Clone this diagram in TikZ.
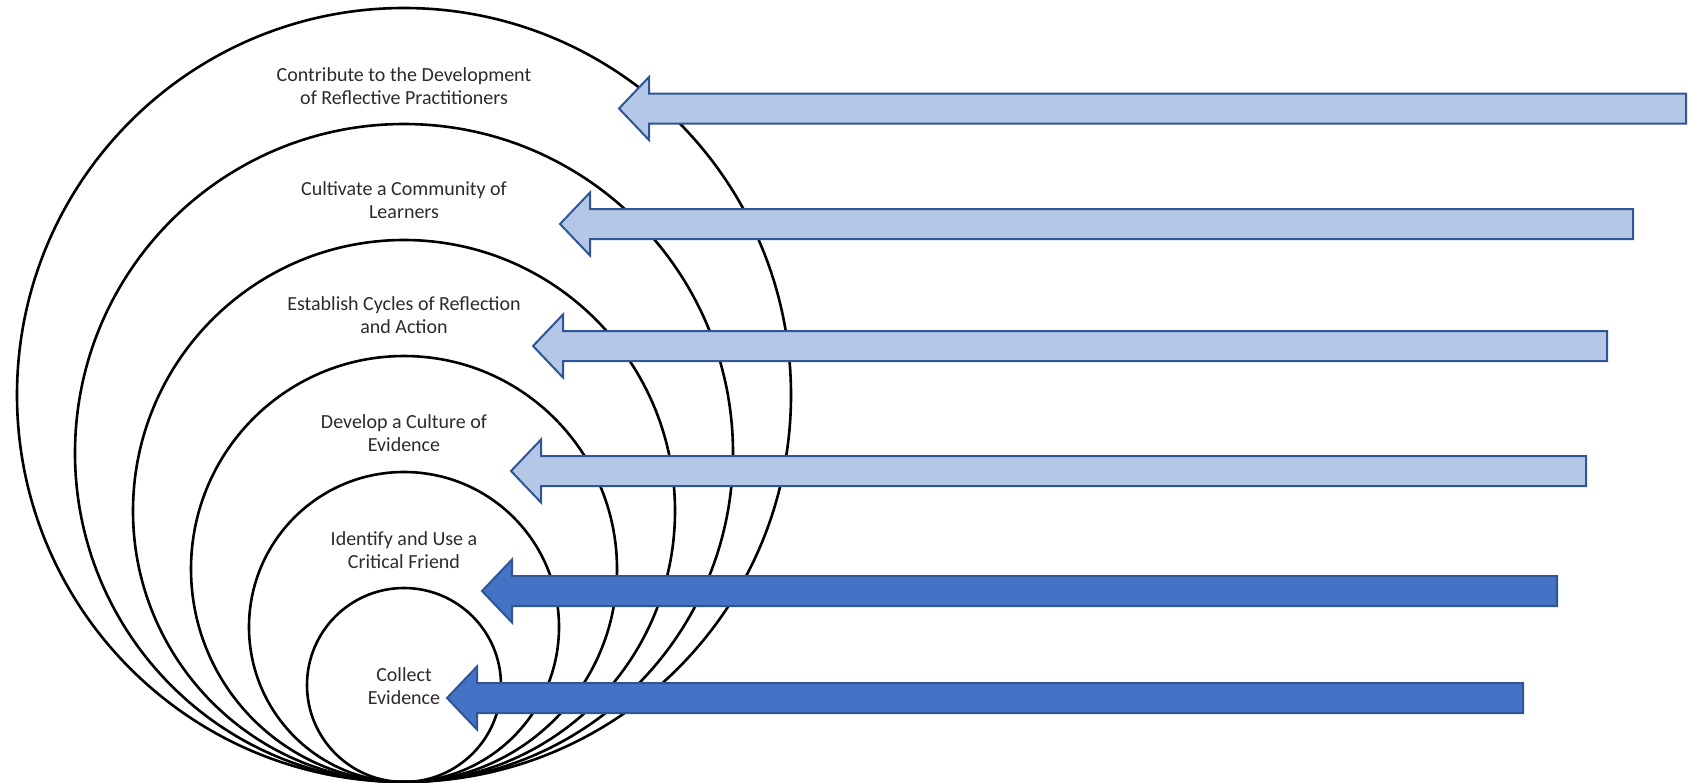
\documentclass[tikz,border=0pt]{standalone}
\usepackage{fontspec}
\setmainfont{Carlito}
\definecolor{lightblue}{HTML}{B4C7E7}
\definecolor{darkblue}{HTML}{4472C4}
\definecolor{edgeblue}{HTML}{2F5597}
\definecolor{txtgray}{HTML}{2B2B2B}
\tikzset{
  ring/.style={draw=black, line width=2.6pt, circle, inner sep=0pt},
  lbl/.style={align=center, font=\fontsize{20}{23}\selectfont, text=txtgray, inner sep=0pt},
  lightarr/.style={fill=lightblue, draw=edgeblue, line width=2pt, line join=miter},
  darkarr/.style={fill=darkblue, draw=edgeblue, line width=2pt, line join=miter},
}
\newcommand\blkarrow[4]{%
  \draw[#4] (#1,#2) -- (#1+30,#2-31.5) -- (#1+30,#2-15) -- (#3,#2-15)
    -- (#3,#2+15) -- (#1+30,#2+15) -- (#1+30,#2+31.5) -- cycle;}
\begin{document}
\begin{tikzpicture}[x=1pt,y=-1pt]
\useasboundingbox (0,0) rectangle (1688,782);
% nested circles tangent at the bottom
\node[ring, minimum size=774pt] (c6) at (404,395) {};
\node[ring, minimum size=658pt] (c5) at (404,453) {};
\node[ring, minimum size=542pt] (c4) at (404,511) {};
\node[ring, minimum size=426pt] (c3) at (404,569) {};
\node[ring, minimum size=310pt] (c2) at (404,627) {};
\node[ring, minimum size=194pt] (c1) at (404,685) {};
% labels
\node[lbl] (t6) at (404,86) {Contribute to the Development\\of Reflective Practitioners};
\node[lbl] (t5) at (404,200) {Cultivate a Community of\\Learners};
\node[lbl] (t4) at (404,315) {Establish Cycles of Reflection\\and Action};
\node[lbl] (t3) at (404,433) {Develop a Culture of\\Evidence};
\node[lbl] (t2) at (404,550) {Identify and Use a\\Critical Friend};
\node[lbl] (t1) at (404,686) {Collect\\Evidence};
% block arrows
\blkarrow{619}{108.5}{1686}{lightarr}
\blkarrow{560}{224}{1633}{lightarr}
\blkarrow{533}{346}{1607}{lightarr}
\blkarrow{511}{471}{1586}{lightarr}
\blkarrow{482}{591}{1557}{darkarr}
\blkarrow{447}{698}{1523}{darkarr}
\end{tikzpicture}
\end{document}
